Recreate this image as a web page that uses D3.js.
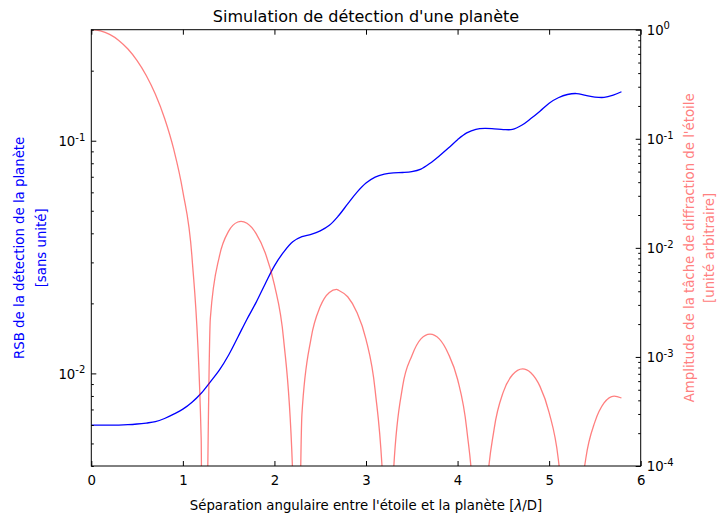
<!DOCTYPE html>
<html>
<head>
<meta charset="utf-8">
<script src="https://cdn.jsdelivr.net/npm/d3@7"></script>
<style>
body { margin: 0; background: #fff; }
text { font-family: "DejaVu Sans", sans-serif; }
</style>
</head>
<body>
<svg width="717" height="516"></svg>
<script>
// separation star / planet in lambda/D, and SNR of the detection (left axis)
var separation = [0, 0.1, 0.2, 0.3, 0.4, 0.5, 0.6, 0.7, 0.8, 0.9,
  1.0, 1.1, 1.2, 1.3, 1.4, 1.5, 1.6, 1.7, 1.8, 1.9,
  2.0, 2.1, 2.2, 2.3, 2.4, 2.5, 2.6, 2.7, 2.8, 2.9,
  3.0, 3.1, 3.2, 3.3, 3.4, 3.5, 3.6, 3.7, 3.8, 3.9,
  4.0, 4.1, 4.2, 4.3, 4.4, 4.5, 4.6, 4.7, 4.8, 4.9,
  5.0, 5.1, 5.2, 5.3, 5.4, 5.5, 5.6, 5.7, 5.79];
var snr = [0.006, 0.006, 0.006, 0.006, 0.00602, 0.00606, 0.00612, 0.0062, 0.0064, 0.00668,
  0.00702, 0.00752, 0.00822, 0.0092, 0.01035, 0.0120, 0.0143, 0.0171, 0.0202, 0.0243,
  0.0290, 0.0332, 0.0368, 0.0387, 0.0396, 0.0410, 0.0433, 0.0476, 0.0535, 0.0600,
  0.0658, 0.0698, 0.0718, 0.0728, 0.0730, 0.0736, 0.0755, 0.0800, 0.0860, 0.0930,
  0.1010, 0.1080, 0.1120, 0.1130, 0.1125, 0.1117, 0.1118, 0.1165, 0.1245, 0.1340,
  0.1450, 0.1530, 0.1580, 0.1595, 0.1565, 0.1540, 0.1535, 0.1570, 0.1623];

// diffraction pattern of the star (right axis); the dark rings go to ~0
var psfSep = [0, 0.1, 0.2, 0.3, 0.4, 0.5, 0.6, 0.7, 0.8, 0.9, 1.0, 1.1, 1.2, 1.22,
  1.3, 1.4, 1.5, 1.6, 1.635, 1.7, 1.8, 1.9, 2.0, 2.1, 2.2, 2.233,
  2.3, 2.4, 2.5, 2.6, 2.679, 2.7, 2.8, 2.9, 3.0, 3.1, 3.2, 3.238,
  3.3, 3.4, 3.5, 3.6, 3.699, 3.8, 3.9, 4.0, 4.1, 4.2, 4.241,
  4.3, 4.4, 4.5, 4.6, 4.71, 4.8, 4.9, 5.0, 5.1, 5.2, 5.243,
  5.3, 5.4, 5.5, 5.6, 5.71, 5.79];
var psfAmp = [1, 0.9756, 0.9053, 0.7974, 0.6645, 0.5209, 0.3806, 0.2558, 0.1544, 0.0803, 0.03283, 0.008138, 0.0001782, 1e-7,
  0.002255, 0.008456, 0.01423, 0.01726, 0.0175, 0.0168, 0.01351, 0.008978, 0.004571, 0.001458, 0.0000817, 1e-7,
  0.0002954, 0.001482, 0.002893, 0.0039, 0.00416, 0.004086, 0.00356, 0.00257, 0.001451, 0.000494, 0.0000361, 1e-7,
  0.0000869, 0.000536, 0.001021, 0.001463, 0.00162, 0.001463, 0.001066, 0.000624, 0.0002185, 0.0000183, 1e-7,
  0.0000351, 0.00022, 0.000478, 0.000686, 0.000778, 0.000716, 0.000537, 0.000309, 0.000116, 0.0000106, 1e-7,
  0.0000176, 0.0001166, 0.000254, 0.000379, 0.000438, 0.00042];

var xTicks = [0, 1, 2, 3, 4, 5, 6];
var snrTicks = [0.01, 0.1];
var psfTicks = [0.0001, 0.001, 0.01, 0.1, 1];

// plot box (window.top is reserved, so not "top")
var x0 = 91.3, x1 = 640.7, y0 = 29.7, y1 = 466;
var svg = d3.select('svg');

var x = d3.scaleLinear().domain([0, 6]).range([x0, x1]);
var yL = d3.scaleLog().domain([0.004, 0.3]).range([y1, y0]);
var yR = d3.scaleLog().domain([0.0001, 1]).range([y1, y0]);

// minor ticks 2..9 of each decade, kept inside the domain
function minors(scale) {
  var d = scale.domain(), out = [];
  for (var e = -6; e <= 1; e++) {
    for (var m = 2; m <= 9; m++) {
      var v = m * Math.pow(10, e);
      if (v >= d[0] * 0.999 && v <= d[1] * 1.001) out.push(v);
    }
  }
  return out;
}

svg.append('defs').append('clipPath').attr('id', 'plot')
  .append('rect').attr('x', x0).attr('y', y0)
  .attr('width', x1 - x0).attr('height', y1 - y0);

// curves
var snrLine = d3.line()
  .x(function(d) { return x(d[0]); })
  .y(function(d) { return yL(d[1]); })
  .curve(d3.curveCatmullRom.alpha(0.5));
var psfLine = d3.line()
  .x(function(d) { return x(d[0]); })
  .y(function(d) { return yR(d[1]); })
  .curve(d3.curveMonotoneX);

var plot = svg.append('g').attr('clip-path', 'url(#plot)');
plot.append('path')
  .attr('d', snrLine(d3.zip(separation, snr)))
  .style('fill', 'none').style('stroke', '#0000ff').style('stroke-width', 1.3);
plot.append('path')
  .attr('d', psfLine(d3.zip(psfSep, psfAmp)))
  .style('fill', 'none').style('stroke', '#ff0000').style('stroke-opacity', 0.5)
  .style('stroke-width', 1.3);

// axes: inward ticks
function noDomain(g) {
  g.select('.domain').remove();
  g.selectAll('line').attr('stroke', '#000');
  g.selectAll('text').style('font-family', '"DejaVu Sans", sans-serif')
    .style('font-size', '13.3px').attr('fill', '#000');
}

svg.append('g').attr('transform', 'translate(0,' + y1 + ')')
  .call(d3.axisBottom(x).tickValues(xTicks).tickFormat(d3.format('d'))
    .tickSizeInner(-5).tickSizeOuter(0).tickPadding(10))
  .call(noDomain);
svg.append('g').attr('transform', 'translate(0,' + y0 + ')')
  .call(d3.axisTop(x).tickValues(xTicks).tickFormat('')
    .tickSizeInner(-5).tickSizeOuter(0))
  .call(noDomain);

// left axis (SNR)
svg.append('g').attr('transform', 'translate(' + x0 + ',0)')
  .call(d3.axisLeft(yL).tickValues(minors(yL)).tickFormat('')
    .tickSizeInner(-2.5).tickSizeOuter(0))
  .call(noDomain);
svg.append('g').attr('class', 'pow').attr('transform', 'translate(' + x0 + ',0)')
  .call(d3.axisLeft(yL).tickValues(snrTicks).tickFormat(function(d) { return d; })
    .tickSizeInner(-5).tickSizeOuter(0).tickPadding(6))
  .call(noDomain);

// right axis (diffraction)
svg.append('g').attr('transform', 'translate(' + x1 + ',0)')
  .call(d3.axisRight(yR).tickValues(minors(yR)).tickFormat('')
    .tickSizeInner(-2.5).tickSizeOuter(0))
  .call(noDomain);
svg.append('g').attr('class', 'pow').attr('transform', 'translate(' + x1 + ',0)')
  .call(d3.axisRight(yR).tickValues(psfTicks).tickFormat(function(d) { return d; })
    .tickSizeInner(-5).tickSizeOuter(0).tickPadding(6))
  .call(noDomain);

// 10^n labels
svg.selectAll('.pow text').each(function(d) {
  var t = d3.select(this).text(null).attr('dy', '0.36em');
  t.append('tspan').text('10');
  t.append('tspan').attr('dy', -5.5).style('font-size', '10px')
    .text(Math.round(Math.log10(d)));
});

// frame
svg.append('rect').attr('x', x0).attr('y', y0)
  .attr('width', x1 - x0).attr('height', y1 - y0)
  .style('fill', 'none').style('stroke', '#000').style('stroke-width', 1);

// titles
svg.append('text').attr('x', (x0 + x1) / 2).attr('y', 22)
  .attr('text-anchor', 'middle').style('font-size', '16px').attr('fill', '#000')
  .text("Simulation de détection d'une planète");

var xl = svg.append('text').attr('x', (x0 + x1) / 2).attr('y', 509.5)
  .attr('text-anchor', 'middle').style('font-size', '13.3px').attr('fill', '#000');
xl.append('tspan').text("Séparation angulaire entre l'étoile et la planète [");
xl.append('tspan').style('font-style', 'italic').text('λ');
xl.append('tspan').text('/D]');

var cy = (y0 + y1) / 2;
function ylabel(lines, xs, color) {
  lines.forEach(function(s, i) {
    svg.append('text')
      .attr('transform', 'translate(' + xs[i] + ',' + cy + ') rotate(-90)')
      .attr('text-anchor', 'middle').style('font-size', '13.3px')
      .attr('fill', color).text(s);
  });
}
ylabel(['RSB de la détection de la planète', '[sans unité]'], [23.5, 45.5], '#0000ff');
ylabel(["Amplitude de la tâche de diffraction de l'étoile", '[unité arbitraire]'], [694, 714], '#ff8080');
</script>
</body>
</html>
